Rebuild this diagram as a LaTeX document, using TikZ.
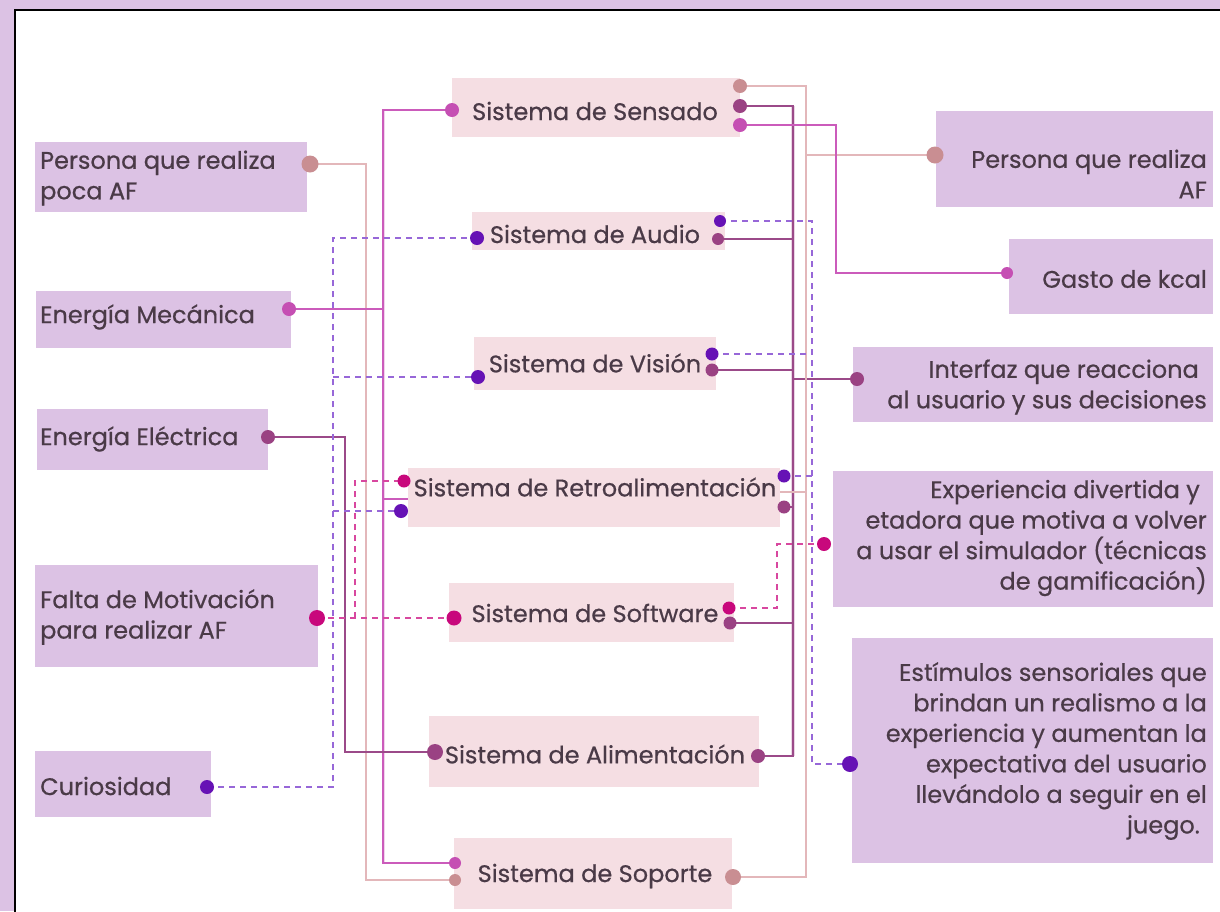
\documentclass[tikz,border=0pt]{standalone}
\usepackage{fontspec}
\setmainfont{Poppins}[FakeBold=0.6]
\usetikzlibrary{calc}
\definecolor{lav}{HTML}{DCC2E4}
\definecolor{pinkbox}{HTML}{F5DEE3}
\definecolor{txtc}{HTML}{4A3A47}
\definecolor{dusty}{HTML}{C98E92}
\definecolor{dustyl}{HTML}{E3B7BA}
\definecolor{mag}{HTML}{C54FB3}
\definecolor{magl}{HTML}{CB5BBB}
\definecolor{plum}{HTML}{9A4283}
\definecolor{pluml}{HTML}{9B4A89}
\definecolor{dpink}{HTML}{C8087C}
\definecolor{dpinkl}{HTML}{D8479F}
\definecolor{purp}{HTML}{6612B5}
\definecolor{purpl}{HTML}{9767D8}
\begin{document}
\begin{tikzpicture}[x=1pt,y=-1pt,
  lbox/.style={fill=lav, draw=none, inner sep=0, anchor=north west},
  pbox/.style={fill=pinkbox, draw=none, inner sep=0, anchor=north west},
  txt/.style={text=txtc, inner sep=0, font=\fontsize{24}{30.5}\selectfont},
  cdot/.style={circle, fill=#1, draw=none, inner sep=0, minimum size=14},
  ldusty/.style={draw=dustyl, line width=1.1},
  lmag/.style={draw=magl, line width=1.4},
  lplum/.style={draw=pluml, line width=1.3},
  ldpink/.style={draw=dpinkl, line width=1.4, dash pattern=on 6pt off 5pt},
  lpurp/.style={draw=purpl, line width=1.5, dash pattern=on 6pt off 5pt}]
\useasboundingbox (0,0) rectangle (1220,911);
\fill[lav] (0,0) rectangle (1220,911);
\draw[black, line width=2, fill=white] (15,10) rectangle (1240,930);

% boxes
\node[lbox, minimum width=272, minimum height=70] (bpp) at (35,142) {};
\node[lbox, minimum width=255, minimum height=57] (bem) at (36,291) {};
\node[lbox, minimum width=231, minimum height=61] (bee) at (37,409) {};
\node[lbox, minimum width=283, minimum height=102] (bfm) at (35,565) {};
\node[lbox, minimum width=176, minimum height=66] (bcu) at (35,751) {};
\node[pbox, minimum width=288, minimum height=59] (bsen) at (452,78) {};
\node[pbox, minimum width=253, minimum height=38] (baud) at (472,212) {};
\node[pbox, minimum width=242, minimum height=53] (bvis) at (474,337) {};
\node[pbox, minimum width=372, minimum height=59] (bret) at (408,468) {};
\node[pbox, minimum width=285, minimum height=59] (bsof) at (449,583) {};
\node[pbox, minimum width=330, minimum height=71] (bali) at (429,716) {};
\node[pbox, minimum width=278, minimum height=71] (bsop) at (454,838) {};
\node[lbox, minimum width=277, minimum height=96] (br1) at (936,111) {};
\node[lbox, minimum width=204, minimum height=75] (br2) at (1009,239) {};
\node[lbox, minimum width=360, minimum height=75] (br3) at (853,347) {};
\node[lbox, minimum width=380, minimum height=136] (br4) at (833,471) {};
\node[lbox, minimum width=361, minimum height=225] (br5) at (852,638) {};

% texts
\node[txt, anchor=west, align=left] (tpp) at (40,178) {Persona que realiza\\poca AF};
\node[txt, anchor=west] (tem) at (40,317) {Energía Mecánica};
\node[txt, anchor=west] (tee) at (40,439) {Energía Eléctrica};
\node[txt, anchor=west, align=left] (tfm) at (40,617) {Falta de Motivación\\para realizar AF};
\node[txt, anchor=west] (tcu) at (40,786) {Curiosidad};
\node[txt] (tsen) at (595,111) {Sistema de Sensado};
\node[txt] (taud) at (595,234) {Sistema de Audio};
\node[txt] (tvis) at (595,363) {Sistema de Visión};
\node[txt] (tret) at (595,487) {Sistema de Retroalimentación};
\node[txt] (tsof) at (595,613) {Sistema de Software};
\node[txt] (tali) at (595,754) {Sistema de Alimentación};
\node[txt] (tsop) at (595,876) {Sistema de Soporte};
\node[txt, anchor=east, align=right] (tr1) at (1207,174) {Persona que realiza\\AF};
\node[txt, anchor=east] (tr2) at (1207,279) {Gasto de kcal};
\node[txt, anchor=east, align=right] (tr3) at (1207,387) {Interfaz que reacciona\hspace*{8pt}\\al usuario y sus decisiones};
\node[txt, anchor=east, align=right] (tr4) at (1207,538) {Experiencia divertida y\hspace*{7pt}\\etadora que motiva a volver\hspace*{7pt}\\a usar el simulador (técnicas\hspace*{7pt}\\de gamificación)};
\node[txt, anchor=east, align=right] (tr5) at (1207,751) {Estímulos sensoriales que\\brindan un realismo a la\hspace*{7pt}\\experiencia y aumentan la\hspace*{7pt}\\expectativa del usuario\hspace*{7pt}\\llevándolo a seguir en el\hspace*{7pt}\\juego.\hspace*{7pt}};

% dot coordinates
\coordinate (pp) at (310,164);
\coordinate (em) at (289,309);
\coordinate (ee) at (268,437);
\coordinate (fm) at (317,618);
\coordinate (cu) at (207,787);
\coordinate (senl) at (452,110);
\coordinate (senr1) at (740,86);
\coordinate (senr2) at (740,106);
\coordinate (senr3) at (740,125);
\coordinate (audl) at (477,238);
\coordinate (audr1) at (720,221);
\coordinate (audr2) at (718,239);
\coordinate (visl) at (478,377);
\coordinate (visr1) at (712,354);
\coordinate (visr2) at (712,370);
\coordinate (retl1) at (404,481);
\coordinate (retl2) at (401,511);
\coordinate (retr1) at (784,476);
\coordinate (retr2) at (784,507);
\coordinate (sofl) at (454,618);
\coordinate (sofr1) at (729,608);
\coordinate (sofr2) at (730,623);
\coordinate (alil) at (435,752);
\coordinate (alir) at (758,756);
\coordinate (sopl1) at (455,863);
\coordinate (sopl2) at (455,880);
\coordinate (sopr) at (733,877);
\coordinate (r1) at (935,155);
\coordinate (r2) at (1007,273);
\coordinate (r3) at (857,379);
\coordinate (r4) at (824,544);
\coordinate (r5) at (850,764);

% junctions
\coordinate (jA) at (366,880);
\coordinate (mt) at (383,110);
\coordinate (mb) at (383,863);
\coordinate (mret) at (408,499);
\coordinate (jC) at (345,752);
\coordinate (jD) at (355,618);
\coordinate (jD2) at (777,544);
\coordinate (jE) at (333,238);
\coordinate (jE2) at (812,764);
\coordinate (jF) at (793,756);
\coordinate (jG) at (806,877);
\coordinate (rG) at (780,492);
\coordinate (jH) at (836,273);

% connectors left
\draw[ldusty] (pp) -| (jA) -- (sopl2);
\draw[line width=3, mag!25] (mt) -- (mb);
\draw[lmag] (senl) -- (mt) -- (mb) -- (sopl1);
\draw[lmag] (em) -- (em -| mt);
\draw[lmag] (mret -| mt) -- (mret);
\draw[lplum] (ee) -| (jC) -- (alil);
\draw[ldpink] (fm) -- (sofl);
\draw[ldpink] (jD) |- (retl1);
\draw[lpurp] (cu) -| (jE) -- (audl);
\draw[lpurp] (jE |- visl) -- (visl);
\draw[lpurp] (jE |- retl2) -- (retl2);
% connectors right
\draw[line width=3.5, plum!22] (jF |- senr2) -- (jF);
\draw[lplum] (senr2) -| (jF) -- (alir);
\draw[lplum] (audr2) -- (audr2 -| jF);
\draw[lplum] (visr2) -- (visr2 -| jF);
\draw[lplum] (retr2) -- (retr2 -| jF);
\draw[lplum] (sofr2) -- (sofr2 -| jF);
\draw[lplum] (jF |- r3) -- (r3);
\draw[ldusty] (senr1) -| (jG) -- (sopr);
\draw[ldusty] (jG |- r1) -- (r1);
\draw[ldusty] (rG) -- (rG -| jG);
\draw[lmag] (senr3) -| (jH) -- (r2);
\draw[ldpink] (sofr1) -| (jD2) -- (r4);
\draw[lpurp] (audr1) -| (jE2) -- (r5);
\draw[lpurp] (visr1) -- (visr1 -| jE2);
\draw[lpurp] (retr1) -- (retr1 -| jE2);

% dots
\node[cdot=dusty, minimum size=17] (npp) at (pp) {};
\node[cdot=mag] (nem) at (em) {};
\node[cdot=plum] (nee) at (ee) {};
\node[cdot=dpink, minimum size=16] (nfm) at (fm) {};
\node[cdot=purp] (ncu) at (cu) {};
\node[cdot=mag] (nsenl) at (senl) {};
\node[cdot=dusty] (nsenr1) at (senr1) {};
\node[cdot=plum] (nsenr2) at (senr2) {};
\node[cdot=mag] (nsenr3) at (senr3) {};
\node[cdot=purp] (naudl) at (audl) {};
\node[cdot=purp, minimum size=12] (naudr1) at (audr1) {};
\node[cdot=plum, minimum size=12] (naudr2) at (audr2) {};
\node[cdot=purp] (nvisl) at (visl) {};
\node[cdot=purp, minimum size=13] (nvisr1) at (visr1) {};
\node[cdot=plum, minimum size=13] (nvisr2) at (visr2) {};
\node[cdot=dpink, minimum size=13] (nretl1) at (retl1) {};
\node[cdot=purp] (nretl2) at (retl2) {};
\node[cdot=purp, minimum size=13] (nretr1) at (retr1) {};
\node[cdot=plum, minimum size=13] (nretr2) at (retr2) {};
\node[cdot=dpink, minimum size=15] (nsofl) at (sofl) {};
\node[cdot=dpink, minimum size=13] (nsofr1) at (sofr1) {};
\node[cdot=plum, minimum size=13] (nsofr2) at (sofr2) {};
\node[cdot=plum, minimum size=16] (nalil) at (alil) {};
\node[cdot=plum] (nalir) at (alir) {};
\node[cdot=mag, minimum size=12] (nsopl1) at (sopl1) {};
\node[cdot=dusty, minimum size=12] (nsopl2) at (sopl2) {};
\node[cdot=dusty, minimum size=16] (nsopr) at (sopr) {};
\node[cdot=dusty, minimum size=17] (nr1) at (r1) {};
\node[cdot=mag, minimum size=12] (nr2) at (r2) {};
\node[cdot=plum] (nr3) at (r3) {};
\node[cdot=dpink] (nr4) at (r4) {};
\node[cdot=purp, minimum size=16] (nr5) at (r5) {};
\end{tikzpicture}
\end{document}
